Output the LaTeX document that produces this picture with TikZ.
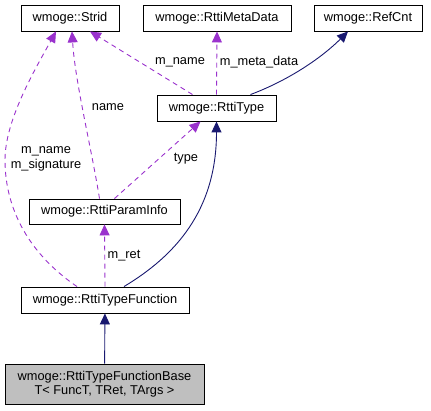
\documentclass[tikz,border=0pt]{standalone}
\usepackage{fontspec}
\setmainfont{Liberation Sans}
\usetikzlibrary{arrows.meta}
\definecolor{inhcol}{HTML}{191970}
\definecolor{usecol}{HTML}{9A32CD}
\definecolor{basefill}{HTML}{BFBFBF}

\begin{document}
\begin{tikzpicture}[
    x=1pt, y=-1pt,
    every node/.style={font=\fontsize{12.8}{14.5}\selectfont, inner sep=0pt},
    cls/.style={draw, line width=0.9pt, minimum height=26pt, align=center},
    inh/.style={-{Triangle[length=11pt,width=10pt]}, color=inhcol, line width=0.9pt},
    use/.style={-{Triangle[length=11pt,width=10pt]}, color=usecol, line width=0.9pt, dash pattern=on 5pt off 4pt},
    lbl/.style={align=center}
]
\useasboundingbox (0,0) rectangle (431,411);

\node[cls, minimum width=98pt] (strid) at (70,18) {wmoge::Strid};
\node[cls, minimum width=148pt] (metadata) at (217,18) {wmoge::RttiMetaData};
\node[cls, minimum width=108pt] (refcnt) at (368,18) {wmoge::RefCnt};
\node[cls, minimum width=119pt] (rttitype) at (216.5,108) {wmoge::RttiType};
\node[cls, minimum width=151pt, minimum height=25pt] (paraminfo) at (104.5,211.5) {wmoge::RttiParamInfo};
\node[cls, minimum width=168pt] (typefunc) at (105,300) {wmoge::RttiTypeFunction};
\node[cls, minimum width=199pt, minimum height=40pt, fill=basefill] (funcbase) at (104.5,384)
    {wmoge::RttiTypeFunctionBase\\T< FuncT, TRet, TArgs >};

% inheritance
\draw[inh] (funcbase) -- (typefunc);
\draw[inh] ([xshift=19pt]typefunc.north) .. controls +(50,-30) and +(0,90) .. (rttitype.south);
\draw[inh] ([xshift=34pt]rttitype.north) .. controls +(40,-15) and +(-25,25) .. ([xshift=-20pt]refcnt.south);

% usage
\draw[use] ([xshift=-24pt]rttitype.north) -- ([xshift=20pt]strid.south);
\draw[use] (rttitype.north) -- (metadata.south);
\draw[use] ([xshift=10pt]paraminfo.north) -- ([xshift=-16pt]rttitype.south);
\draw[use] ([xshift=-5pt]paraminfo.north) .. controls +(-8,-50) and +(3,50) .. ([xshift=2pt]strid.south);
\draw[use] (typefunc.north) -- (paraminfo.south);
\draw[use] ([xshift=-28pt]typefunc.north) .. controls +(-47,-32) and +(0,50) .. (5,160)
    .. controls +(0,-40) and +(-21,38) .. ([xshift=-14pt]strid.south);

\node[lbl] (lname) at (180,62) {m\_name};
\node[lbl] (lmeta) at (259,62) {m\_meta\_data};
\node[lbl] (lpname) at (108,107) {name};
\node[lbl] (ltype) at (186,159) {type};
\node[lbl] (lfname) at (46,159) {m\_name\\m\_signature};
\node[lbl] (lret) at (124,256) {m\_ret};

\end{tikzpicture}
\end{document}
